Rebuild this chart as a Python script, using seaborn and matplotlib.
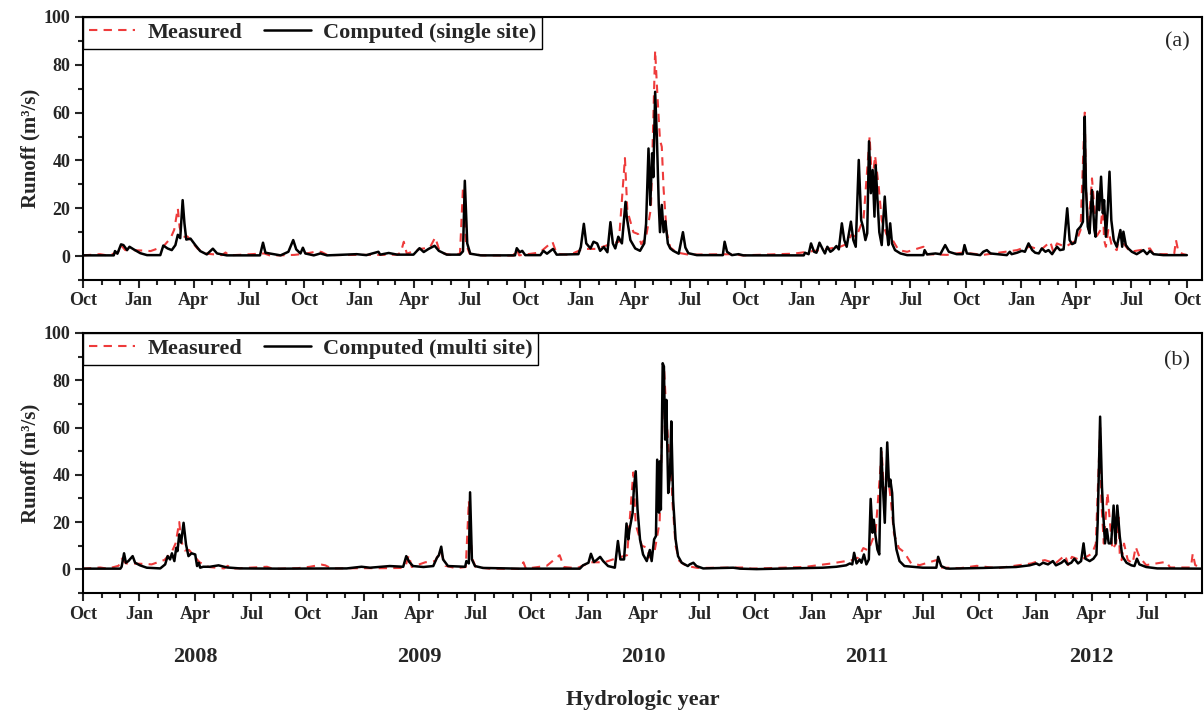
import numpy as np
import pandas as pd
import matplotlib
matplotlib.use("Agg")
import matplotlib.pyplot as plt
import matplotlib.dates as mdates
import seaborn as sns

# day numbers counted from 1 Oct 2007 (start of hydrologic year 2008)
start = pd.Timestamp("2007-10-01")

meas_day = [0, 28, 40, 58, 63, 70, 80, 100, 112, 122, 133, 145, 151, 157, 160, 166, 173, 180,
            190, 205, 230, 236, 242, 300, 310, 350, 370, 389, 395, 405, 460, 490, 520, 526,
            531, 536, 558, 574, 583, 591, 608, 624, 629, 634, 640, 662, 712, 718, 722, 756,
            777, 784, 805, 828, 850, 873, 887, 897, 901, 911, 919, 924, 932, 940, 947, 951,
            955, 958, 961, 966, 972, 983, 1002, 1077, 1090, 1176, 1220, 1253, 1264, 1272,
            1280, 1292, 1302, 1306, 1311, 1317, 1322, 1330, 1339, 1344, 1350, 1364, 1391,
            1397, 1430, 1457, 1490, 1546, 1554, 1568, 1585, 1601, 1606, 1612, 1626, 1645,
            1651, 1658, 1660, 1664, 1670, 1674, 1678, 1684, 1688, 1690, 1693, 1697, 1703,
            1711, 1716, 1722, 1733, 1766, 1772, 1806, 1809, 1813, 1821, 1826]
meas_q = [0.3, 0.8, 0.3, 1.5, 4.5, 2.5, 2.5, 2.3, 2.1, 3.0, 4.0, 7.5, 11, 20, 12, 8, 8.2, 6,
          3, 1, 0.4, 1.5, 0.3, 1.1, 0.2, 0.5, 1.1, 2.0, 1.7, 0.4, 0.5, 0.5, 0.6, 1.5,
          6.0, 1.0, 3.0, 3.5, 7.8, 1.5, 0.5, 1.0, 29, 5, 1.0, 0.3, 0.2, 3.0, 0.3, 1.5,
          6.0, 1.0, 0.5, 3.0, 3.0, 5.0, 6.0, 41, 19, 10, 9.2, 5.0, 8.0, 20, 86, 66,
          48.6, 45.7, 28, 10, 3.6, 1.5, 0.6, 0.8, 0.3, 1.0, 2.5, 3.9, 5.0, 9.0,
          8.0, 15.8, 50, 30, 42, 29, 15, 9, 7.2, 5, 2.5, 1.8, 3.9,
          0.8, 0.5, 1.5, 0.5, 2.5, 3.2, 3.9, 2.5, 6.0, 1.8, 5.3, 3.9, 6.7,
          10.9, 60, 29, 10.9, 32.5, 20, 8.4, 10.9, 22, 6.7, 3.9, 10.9, 4.0,
          2.5, 9.5, 5.3, 1.8, 3.2, 0.8, 0.8, 6.7, 1.8, 0.8, 0.5]

single_day = [0, 51, 53, 57, 63, 67, 73, 77, 84, 95, 106, 128, 133, 140, 147, 153, 157, 161,
              165, 168, 171, 178, 186, 194, 205, 215, 222, 238, 293, 298, 302, 327, 340, 348,
              353, 360, 364, 368, 382, 393, 404, 453, 469, 489, 492, 506, 520, 547, 557, 564,
              572, 582, 589, 602, 624, 629, 632, 636, 641, 658, 715, 718, 723, 727, 732, 757,
              762, 768, 778, 784, 820, 824, 829, 833, 840, 845, 851, 856, 862, 868, 873, 877,
              881, 886, 892, 898, 900, 906, 914, 922, 929, 932, 936, 939, 942, 944, 947, 950,
              953, 955, 958, 961, 964, 968, 972, 977, 986, 993, 997, 1002, 1016, 1059, 1062,
              1066, 1074, 1085, 1093, 1193, 1195, 1201, 1205, 1210, 1214, 1219, 1225, 1228,
              1232, 1237, 1241, 1247, 1251, 1256, 1260, 1264, 1271, 1275, 1279, 1284, 1288,
              1291, 1295, 1298, 1301, 1304, 1307, 1310, 1312, 1315, 1318, 1322, 1327, 1331,
              1333, 1336, 1339, 1344, 1353, 1364, 1391, 1393, 1397, 1411, 1419, 1427, 1433,
              1446, 1456, 1459, 1463, 1485, 1490, 1496, 1502, 1513, 1529, 1534, 1537, 1546,
              1554, 1559, 1565, 1571, 1576, 1582, 1587, 1593, 1598, 1604, 1612, 1617, 1623,
              1629, 1633, 1637, 1642, 1646, 1651, 1655, 1658, 1660, 1663, 1666, 1670, 1674,
              1676, 1679, 1682, 1685, 1688, 1690, 1693, 1696, 1699, 1702, 1706, 1711, 1717,
              1720, 1722, 1726, 1730, 1736, 1744, 1755, 1761, 1766, 1772, 1788, 1827]
single_q = [0.3, 0.3, 2.1, 1.0, 4.9, 4.6, 2.5, 3.9, 2.8, 1.2, 0.4, 0.4, 4.4, 3.2, 2.5, 4.6, 8.9, 7.5,
            23.4, 13.6, 6.9, 7.3, 4.6, 2.1, 0.7, 3.1, 1.1, 0.3, 0.3, 5.6, 1.4, 0.3, 1.8, 6.7,
            2.8, 1.1, 3.5, 1.1, 0.3, 1.1, 0.3, 0.8, 0.4, 1.8, 0.6, 1.3, 0.6, 0.6, 3.3, 1.7,
            3.0, 4.3, 2.2, 0.6, 0.6, 2.0, 31.5, 5.3, 1.0, 0.3, 0.3, 3.3, 1.6, 2.2, 0.4, 0.4,
            2.2, 1.0, 3.0, 0.6, 0.8, 3.8, 13.5, 5.3, 3.2, 6.0, 5.3, 2.2, 3.8, 1.6, 14.2, 5.3,
            3.2, 8.1, 5.3, 22.7, 16.4, 6.7, 3.2, 2.2, 5.3, 13.5, 45, 21.4, 43, 33, 68.7, 48.6,
            21.4, 10, 21.4, 10, 14.6, 5.3, 3.2, 2.2, 1.0, 10, 3.6, 1.2, 0.4, 0.4, 6.0,
            1.8, 0.4, 0.8, 0.3, 0.3, 1.4, 0.8, 5.3, 1.8, 1.4, 5.6, 2.5, 1.1,
            3.9, 1.8, 2.5, 4.2, 2.8, 13.7, 6.7, 3.9, 14.4, 6.7, 3.9, 40.2, 15,
            12.3, 6.7, 9.5, 48, 26.3, 36, 16.5, 38, 23.4, 10, 4.6, 24.9, 9.5,
            4.6, 13.7, 5.3, 2.5, 1.1, 0.4, 0.4, 2.5, 0.7, 1.1, 0.8, 4.6, 1.8,
            0.8, 0.8, 4.6, 1.1, 0.4, 1.8, 2.5, 1.1, 0.8, 0.4, 1.8, 0.8, 1.4,
            2.2, 1.8, 5.3, 2.5, 1.4, 1.1, 3.2, 1.8, 2.5, 0.8, 3.9, 2.5, 2.8,
            20, 6.7, 5.0, 5.6, 10.9, 12.3, 14.4, 58.3, 29, 12.3, 9.5, 27.6, 10.9,
            8.1, 27, 19.2, 33.2, 17.9, 23.4, 8.1, 19.2, 35.3, 15, 6.7, 3.9, 10.9,
            3.9, 10.2, 4.6, 3.2, 1.8, 0.8, 2.5, 0.8, 2.2, 0.8, 0.4, 0.4]

multi_day = [0, 61, 63, 67, 70, 74, 81, 85, 93, 104, 126, 134, 138, 142, 145, 149, 152, 154,
             157, 160, 164, 168, 172, 177, 183, 186, 189, 191, 196, 207, 221, 235, 256, 322,
             430, 454, 468, 500, 522, 527, 532, 538, 555, 571, 577, 580, 584, 587, 595, 623,
             625, 629, 631, 634, 639, 652, 712, 810, 815, 824, 828, 833, 837, 843, 848, 856,
             867, 872, 876, 882, 886, 889, 891, 896, 898, 901, 904, 908, 913, 919, 924, 927,
             931, 934, 936, 939, 940, 942, 945, 947, 949, 951, 954, 957, 959, 962, 966, 970,
             976, 986, 989, 995, 1000, 1011, 1060, 1071, 1098, 1206, 1228, 1244, 1250, 1254,
             1257, 1261, 1266, 1269, 1273, 1277, 1281, 1284, 1287, 1289, 1292, 1295, 1298,
             1301, 1304, 1307, 1308, 1311, 1314, 1316, 1319, 1321, 1326, 1331, 1339, 1369,
             1391, 1394, 1399, 1407, 1413, 1467, 1521, 1543, 1554, 1559, 1565, 1573, 1581,
             1586, 1595, 1600, 1605, 1611, 1616, 1622, 1627, 1631, 1634, 1641, 1647, 1652,
             1654, 1658, 1661, 1663, 1666, 1669, 1672, 1676, 1680, 1683, 1686, 1690, 1694,
             1701, 1709, 1714, 1718, 1722, 1733, 1751, 1826]
multi_q = [0.3, 0.3, 1.1, 6.8, 2.8, 3.5, 5.6, 2.8, 1.7, 0.7, 0.4, 2.1, 5.6, 4.2, 6.8, 3.5, 9.1, 7.7,
           14.8, 11.3, 19.7, 10.5, 5.6, 6.8, 6.3, 1.4, 2.8, 0.7, 1.1, 1.1, 1.7, 0.8, 0.4, 0.3,
           0.4, 1.1, 0.7, 1.4, 1.1, 5.6, 3.1, 1.4, 1.0, 1.4, 4.9, 5.9, 9.6, 4.2, 1.4, 1.1,
           3.5, 2.5, 32.6, 4.2, 1.4, 0.6, 0.3, 0.3, 1.7, 2.8, 6.6, 3.1, 3.9, 5.3, 3.5, 1.4,
           0.7, 12, 4.2, 4.2, 19.4, 12.7, 16.9, 23.9, 34.5, 41.5, 25.3, 12.7, 6.3, 3.5, 8.2, 3.5,
           12.7, 14.1, 46.4, 24, 45.7, 25.3, 87.2, 85.8, 54.9, 71.7, 32.3, 40.8, 62.6, 29.5, 12.7, 5.6,
           2.8, 1.4, 2.1, 2.8, 1.4, 0.4, 0.7, 0.3, 0.1, 0.7, 1.1, 1.7, 2.5, 2.1,
           7.0, 2.5, 4.2, 2.8, 6.3, 2.1, 4.2, 29.8, 15.5, 21, 14, 8.4, 6.3,
           51.3, 35, 19.7, 28, 53.7, 35, 38, 32.3, 19.7, 8.4, 3.5, 1.4, 0.7,
           0.7, 5.3, 1.4, 0.4, 0.3, 0.6, 1.0, 1.7, 2.5, 1.8, 2.8, 2.1, 3.5,
           1.7, 2.8, 3.9, 2.1, 2.8, 4.5, 2.5, 3.5, 11, 4.5, 3.5, 4.5, 6.3,
           19.7, 64.6, 35, 24, 11, 17, 11, 11, 27, 11, 27, 14, 5.6,
           2.8, 1.7, 1.4, 4.5, 2.1, 1.0, 0.4, 0.3]

years = ["2008", "2009", "2010", "2011", "2012"]
panel_tags = ["(a)", "(b)"]
model_names = ["Computed (single site)", "Computed (multi site)"]


def to_frame(days, q):
    return pd.DataFrame({"date": start + pd.to_timedelta(days, unit="D"), "runoff": q})


measured = to_frame(meas_day, meas_q)
computed = [to_frame(single_day, single_q), to_frame(multi_day, multi_q)]

sns.set_style("ticks")
plt.rcParams["font.family"] = ["Liberation Serif", "DejaVu Serif"]
plt.rcParams["font.weight"] = "bold"
plt.rcParams["axes.labelweight"] = "bold"

fig = plt.figure(figsize=(12.04, 7.13), dpi=100)
ax_top = fig.add_axes([0.0689, 0.6073, 0.9294, 0.3689])
ax_bot = fig.add_axes([0.0689, 0.1683, 0.9294, 0.3647])
axes = [ax_top, ax_bot]
xlims = [(pd.Timestamp("2007-10-01"), pd.Timestamp("2012-10-26")),
         (pd.Timestamp("2007-10-01"), pd.Timestamp("2012-09-28"))]

for i, ax in enumerate(axes):
    sns.lineplot(data=measured, x="date", y="runoff", ax=ax, color="#EE3B3B",
                 linewidth=1.5, linestyle=(0, (4, 3)), label="Measured", estimator=None)
    sns.lineplot(data=computed[i], x="date", y="runoff", ax=ax, color="black",
                 linewidth=1.8, label=model_names[i], estimator=None)

    ax.set_xlim(*xlims[i])
    ax.set_ylim(-10, 100)
    ax.set_yticks([0, 20, 40, 60, 80, 100])
    ax.set_yticks(np.arange(-10, 100, 20), minor=True)
    ax.xaxis.set_major_locator(mdates.MonthLocator(bymonth=[1, 4, 7, 10]))
    ax.xaxis.set_minor_locator(mdates.MonthLocator())
    ax.xaxis.set_major_formatter(mdates.DateFormatter("%b"))
    ax.tick_params(which="major", direction="out", length=6, width=1.5, labelsize=13, pad=3)
    ax.tick_params(which="minor", direction="out", length=3.5, width=1.5)
    for sp in ax.spines.values():
        sp.set_linewidth(1.5)
        sp.set_color("black")

    ax.set_xlabel("")
    ax.set_ylabel("Runoff (m³/s)", fontsize=15, labelpad=2)

    leg = ax.legend(loc="upper left", ncol=2, frameon=True, fancybox=False, framealpha=1,
                    edgecolor="black", borderaxespad=0, handlelength=2.1, handletextpad=0.55,
                    columnspacing=1.0, borderpad=0.25, prop={"size": 16, "weight": "bold"})
    leg.get_frame().set_linewidth(1.0)

    ax.text(0.978, 0.905 if i == 0 else 0.894, panel_tags[i], transform=ax.transAxes,
            ha="center", va="center", fontsize=16, fontweight="normal")

# hydrologic year labels under the lower panel, centred on April
for y in years:
    ax_bot.text(pd.Timestamp(f"{y}-04-01"), -0.245, y, transform=ax_bot.get_xaxis_transform(),
                ha="center", va="center", fontsize=16, fontweight="bold")

fig.text(0.534, 0.018, "Hydrologic year", ha="center", va="center", fontsize=16, fontweight="bold")

fig.savefig("out.png", dpi=100)
